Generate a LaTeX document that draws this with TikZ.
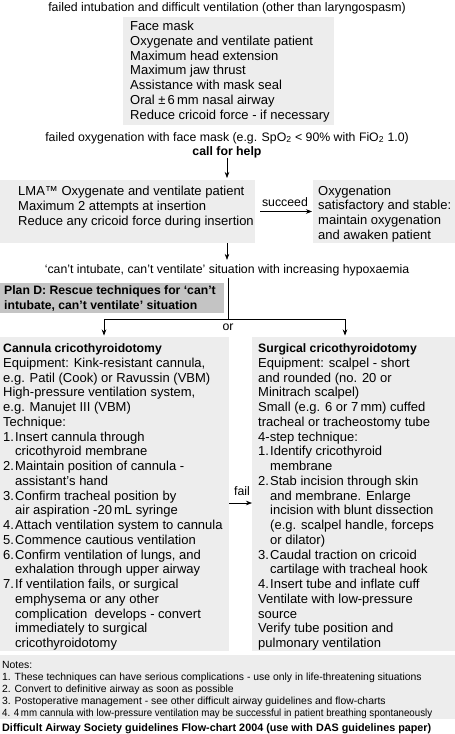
\documentclass[tikz,border=0pt]{standalone}
\usepackage{fontspec}
\usepackage{graphicx}
\setmainfont{Liberation Sans}
\usetikzlibrary{arrows.meta}
\definecolor{boxgray}{HTML}{EDEDED}
\definecolor{plangray}{HTML}{C4C4C4}
\newcommand\bodyfont{\fontsize{13}{14.75}\selectfont}
\newcommand\annfont{\fontsize{12.3}{14.75}\selectfont}
\newcommand\notefont{\fontsize{10.4}{12}\selectfont}
\newcommand\itm[1]{\makebox[12pt][l]{#1}}
\newcommand\ind{\hspace*{12pt}}
\begin{document}
\begin{tikzpicture}[x=1pt,y=-1pt,
  box/.style={fill=boxgray, draw=none, inner sep=0pt, outer sep=0pt, anchor=north west},
  txt/.style={inner sep=0pt, anchor=north west, align=left, font=\bodyfont, yshift=10.325pt},
  ntxt/.style={inner sep=0pt, anchor=north west, align=left, font=\notefont, yshift=8.4pt},
  ctxt/.style={inner sep=0pt, anchor=base, font=\annfont},
  arr/.style={-{Stealth[length=6pt,width=4.5pt]}, line width=0.6pt},
  ln/.style={line width=0.6pt}]
\useasboundingbox (0,0) rectangle (455,734);
\fill[white] (0,0) rectangle (455,734);

% top annotations
\node[ctxt] (t1) at (227,11) {failed intubation and difficult ventilation (other than laryngospasm)};
\node[box, minimum width=211pt, minimum height=108pt] (fm) at (123,17) {};
\node[txt] (fmt) at (130,30.5) {\strut Face mask\\Oxygenate and ventilate patient\\Maximum head extension\\Maximum jaw thrust\\Assistance with mask seal\\Oral ±\,6\,mm nasal airway\\Reduce cricoid force - if necessary};
\node[ctxt] (t2) at (227,141) {failed oxygenation with face mask (e.g. SpO\textsubscript{2} < 90\% with FiO\textsubscript{2} 1.0)};
\node[ctxt, font=\annfont\bfseries] (help) at (227,155) {call for help};

% LMA
\node[box, minimum width=255pt, minimum height=63pt] (lma) at (0,180) {};
\node[txt] (lmat) at (18,195.5) {\strut LMA™ Oxygenate and ventilate patient\\Maximum 2 attempts at insertion\\Reduce any cricoid force during insertion};
\node[box, minimum width=142pt, minimum height=63pt] (ok) at (313,180) {};
\node[txt] (okt) at (318,195) {\strut Oxygenation\\satisfactory and stable:\\maintain oxygenation\\and awaken patient};
\node[ctxt] (succ) at (285,206) {succeed};
\draw[arr, shorten <=5pt, shorten >=1pt] (lma.east) -- (ok.west);
\draw[arr, shorten >=2pt] (help.south) -- (help.south |- lma.north);

% CICV
\node[ctxt] (cant) at (227,273) {‘can’t intubate, can’t ventilate’ situation with increasing hypoxaemia};
\draw[arr, shorten >=4pt] (cant.north |- lma.south) -- (cant.north);
\node[fill=plangray, inner sep=0pt, outer sep=0pt, anchor=north west, minimum width=224pt, minimum height=30pt] (pland) at (0,283) {};
\node[txt, font=\fontsize{12.2}{14.75}\selectfont\bfseries] (plandt) at (4,294.5) {\strut Plan D: Rescue techniques for ‘can’t\\intubate, can’t ventilate’ situation};

\coordinate (split) at (228,319);
\coordinate (la) at (104,319);
\coordinate (ra) at (345,319);
\draw[ln, shorten <=2pt] (cant.south -| split) -- (split);
\draw[ln] (la) -- (ra);
\node[ctxt] (or) at (228,330) {or};

% two branches
\node[box, minimum width=229pt, minimum height=314pt] (cannula) at (0,337) {};
\node[box, minimum width=203pt, minimum height=314pt] (surgical) at (252,337) {};
\draw[arr, shorten >=1.5pt] (la) -- (la |- cannula.north);
\draw[arr, shorten >=1.5pt] (ra) -- (ra |- surgical.north);

\node[txt] (cant1) at (3,352.5) {\strut\textbf{\fontsize{12.2}{14.75}\selectfont Cannula cricothyroidotomy}\\
Equipment: Kink-resistant cannula,\\
e.g. Patil (Cook) or Ravussin (VBM)\\
High-pressure ventilation system,\\
e.g. Manujet III (VBM)\\
Technique:\\
\itm{1.}Insert cannula through\\
\ind cricothyroid membrane\\
\itm{2.}Maintain position of cannula -\\
\ind assistant’s hand\\
\itm{3.}Confirm tracheal position by\\
\ind air aspiration -20\,mL syringe\\
\itm{4.}Attach ventilation system to cannula\\
\itm{5.}Commence cautious ventilation\\
\itm{6.}Confirm ventilation of lungs, and\\
\ind exhalation through upper airway\\
\itm{7.}If ventilation fails, or surgical\\
\ind emphysema or any other\\
\ind complication\ \ develops - convert\\
\ind immediately to surgical\\
\ind cricothyroidotomy};

\node[txt] (surg1) at (258,352.5) {\strut\textbf{\fontsize{12.2}{14.75}\selectfont Surgical cricothyroidotomy}\\
Equipment: scalpel - short\\
and rounded (no. 20 or\\
Minitrach scalpel)\\
Small (e.g. 6 or 7\,mm) cuffed\\
tracheal or tracheostomy tube\\
4-step technique:\\
\itm{1.}Identify cricothyroid\\
\ind membrane\\
\itm{2.}Stab incision through skin\\
\ind and membrane. Enlarge\\
\ind incision with blunt dissection\\
\ind (e.g. scalpel handle, forceps\\
\ind or dilator)\\
\itm{3.}Caudal traction on cricoid\\
\ind cartilage with tracheal hook\\
\itm{4.}Insert tube and inflate cuff\\
Ventilate with low-pressure\\
source\\
Verify tube position and\\
pulmonary ventilation};

\coordinate (fy) at (0,503);
\node[ctxt] (fail) at (242,495) {fail};
\draw[arr] (cannula.east |- fy) -- (surgical.west |- fy);

% notes
\node[box, minimum width=455pt, minimum height=64pt] (notes) at (0,655) {};
\node[ntxt] (notest) at (2,668) {\strut Notes:\\
1. These techniques can have serious complications - use only in life-threatening situations\\
2. Convert to definitive airway as soon as possible\\
3. Postoperative management - see other difficult airway guidelines and flow-charts\\
\scalebox{0.935}[1]{4. 4\,mm cannula with low-pressure ventilation may be successful in patient breathing spontaneously}};
\node[inner sep=0pt, anchor=base west, font=\fontsize{10.8}{12}\selectfont\bfseries] (foot) at (2,731) {Difficult Airway Society guidelines Flow-chart 2004 (use with DAS guidelines paper)};
\end{tikzpicture}
\end{document}
